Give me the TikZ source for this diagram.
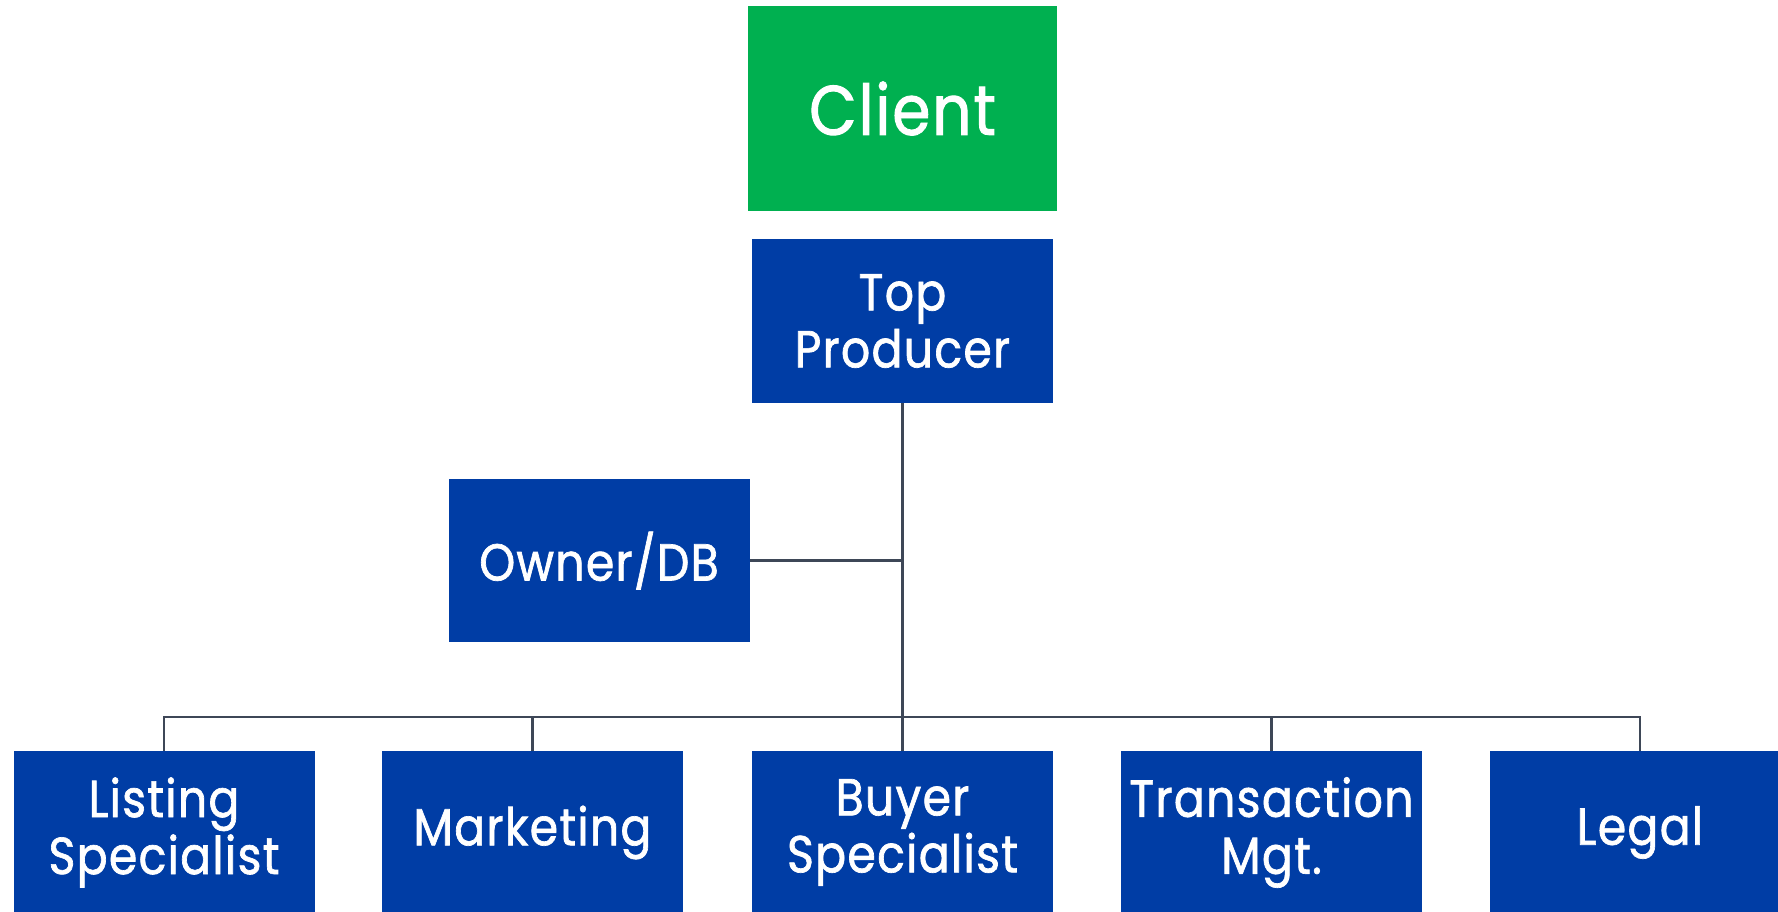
\documentclass[tikz,border=0pt]{standalone}
\usepackage{fontspec}
\setmainfont{Poppins}[FakeStretch=0.88, FakeBold=1.3, LetterSpace=2.5]
\definecolor{boxblue}{HTML}{003DA5}
\definecolor{clientgreen}{HTML}{00B050}
\definecolor{linegray}{HTML}{3E4757}
\begin{document}
\begin{tikzpicture}[x=1pt,y=-1pt,
  box/.style={rectangle, fill=boxblue, text=white, minimum width=301pt,
    minimum height=163pt, inner sep=0pt, align=center,
    font=\fontsize{52}{57}\selectfont},
  clientbox/.style={box, fill=clientgreen, minimum width=309pt,
    minimum height=205pt, font=\fontsize{70}{76}\selectfont},
  link/.style={draw=linegray, line width=2.8pt}]
\useasboundingbox (0,0) rectangle (1778,912);
\clip (0,0) rectangle (1778,912);

% top of the chart
\node[clientbox] (cli) at (902.5,108.5) {Client};
\node[box, minimum height=164pt] (top) at (902.5,321) {Top\\Producer};
\node[box] (own) at (599,560.5) {Owner/DB};

% team row
\node[box] (lst) at (164,832.5)   {Listing\\Specialist};
\node[box] (mkt) at (532.5,832.5) {Marketing};
\node[box] (byr) at (902.5,832.5) {Buyer\\Specialist};
\node[box] (trn) at (1271.5,832.5) {Transaction\\Mgt.};
\node[box] (lgl) at (1640,832.5)  {Legal};

% connectors
\coordinate (bus) at (902.5,717);
\draw[link] (top.south) -- (byr.north);
\draw[link] (own.east) -- (own.east -| top.south);
\draw[link] (lst.north) |- (bus) -| (lgl.north);
\draw[link] (mkt.north) -- (mkt.north |- bus);
\draw[link] (trn.north) -- (trn.north |- bus);
\end{tikzpicture}
\end{document}
